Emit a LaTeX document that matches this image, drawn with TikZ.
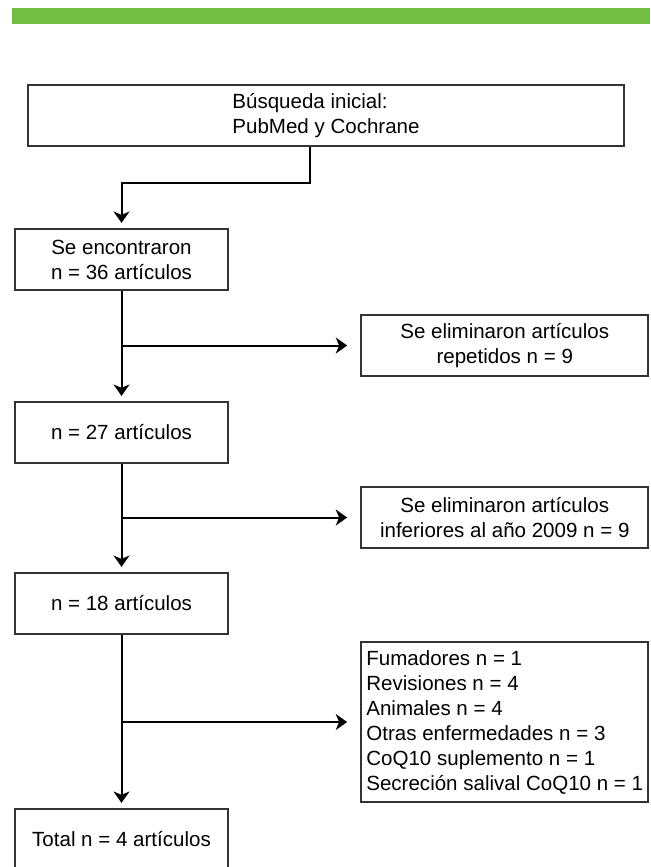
\documentclass[tikz,border=0pt]{standalone}
\usepackage{fontspec}
\setmainfont{Liberation Sans}
\usetikzlibrary{arrows.meta}
\definecolor{bargreen}{RGB}{114,190,69}

\begin{document}
\begin{tikzpicture}[x=0.75pt, y=-0.75pt, font=\fontsize{15.4}{18.75}\selectfont]
    \tikzset{
      box/.style={draw=black!80, line width=1.2pt, inner sep=2pt, align=center},
      leftbox/.style={box, minimum width=159.75pt, minimum height=45.75pt},
      rightbox/.style={box, minimum width=215.25pt, minimum height=45.75pt},
      flow/.style={line width=1.5pt, -{Stealth[length=8.5pt, width=12pt, inset=2.5pt]}, shorten >=4pt},
    }
    \useasboundingbox (0,0) rectangle (650,867);
    \fill [bargreen] (12,8) rectangle (650,24);

    \node [box, align=left, minimum width=447pt, minimum height=45.75pt] (search) at (326,115.5)
      {Búsqueda inicial:\\PubMed y Cochrane};
    \node [leftbox] (found) at (121.5,259.5) {Se encontraron\\n = 36 artículos};
    \node [rightbox] (dup) at (504.75,345.5) {Se eliminaron artículos\\repetidos n = 9};
    \node [leftbox] (n27) at (121.5,432.5) {n = 27 artículos};
    \node [rightbox] (old) at (504.75,517.5) {Se eliminaron artículos\\inferiores al año 2009 n = 9};
    \node [leftbox] (n18) at (121.5,603.5) {n = 18 artículos};
    \node [rightbox, align=left, minimum height=120pt] (excl) at (504.75,722)
      {Fumadores n = 1\\Revisiones n = 4\\Animales n = 4\\Otras enfermedades n = 3\\CoQ10 suplemento n = 1\\Secreción salival CoQ10 n = 1};
    \node [leftbox] (total) at (121.5,839.5) {Total n = 4 artículos};

    \draw [flow] ([xshift=-12pt]search.south) -- ++(0,36) -| (found.north);
    \foreach \a/\b in {found/n27, n27/n18, n18/total}
      \draw [flow] (\a.south) -- (\b.north);
    \foreach \a/\b in {found/dup, n27/old, n18/excl}
      \draw [flow, shorten >=10pt] (\a.south |- \b.west) -- (\b.west);
\end{tikzpicture}
\end{document}
